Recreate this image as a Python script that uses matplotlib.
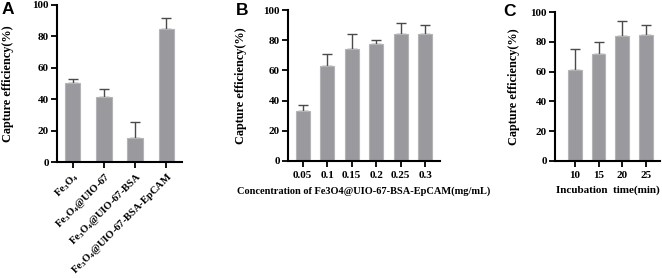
import numpy as np
import matplotlib
matplotlib.use("Agg")
import matplotlib.pyplot as plt

plt.rcParams['font.family'] = 'Liberation Serif'
plt.rcParams['font.weight'] = 'bold'
plt.rcParams['mathtext.fontset'] = 'custom'
plt.rcParams['mathtext.rm'] = 'Liberation Serif:bold'
plt.rcParams['mathtext.bf'] = 'Liberation Serif:bold'

# panel A
a_labels = [r'Fe$_3$O$_4$', r'Fe$_3$O$_4$@UIO-67', r'Fe$_3$O$_4$@UIO-67-BSA',
            r'Fe$_3$O$_4$@UIO-67-BSA-EpCAM']
a_vals = [50.5, 41.6, 15.3, 84.5]
a_err = [2.2, 4.9, 10.2, 7.0]

# panel B
b_labels = ['0.05', '0.1', '0.15', '0.2', '0.25', '0.3']
b_vals = [33.1, 63.1, 74.0, 77.5, 84.3, 84.1]
b_err = [4.2, 8.0, 9.9, 2.4, 7.1, 5.9]

# panel C
c_labels = ['10', '15', '20', '25']
c_vals = [61.1, 72.1, 84.1, 84.3]
c_err = [14.0, 7.5, 9.6, 7.1]

W, H = 662, 278
fig = plt.figure(figsize=(W / 100, H / 100), dpi=100)

def px_axes(l, t, r, b):
    return fig.add_axes([l / W, 1 - b / H, (r - l) / W, (b - t) / H])

bar_col = '#9a9a9e'
edge_col = '#b4b4b6'
err_col = '#4a4a4a'

def draw(ax, labels, vals, err, width, xlim, ylab_x):
    x = np.arange(len(vals))
    ax.bar(x, vals, width=width, color=bar_col, edgecolor=edge_col, linewidth=0.8, zorder=2)
    ax.errorbar(x, vals, yerr=[np.zeros(len(err)), err], fmt='none', ecolor=err_col,
                elinewidth=1.0, capsize=3.5, capthick=1.0, zorder=1)
    ax.set_xlim(*xlim)
    ax.set_ylim(0, 100)
    ax.set_yticks([0, 20, 40, 60, 80, 100])
    ax.set_xticks(x)
    ax.set_xticklabels(labels)
    for s in ['top', 'right']:
        ax.spines[s].set_visible(False)
    for s in ['left', 'bottom']:
        ax.spines[s].set_linewidth(1.5)
        ax.spines[s].set_color('black')
    ax.tick_params(axis='both', width=1.3, length=4, labelsize=8, pad=2)
    ax.set_ylabel('Capture efficiency(%)', fontsize=8.8, fontweight='bold')
    # right edge of the rotated y label at a pixel x position
    l = ax.get_position().x0 * W
    w = ax.get_position().width * W
    ax.yaxis.set_label_coords((ylab_x - l) / w, 0.5)
    for t in ax.get_yticklabels() + ax.get_xticklabels():
        t.set_fontweight('bold')

axA = px_axes(57, 5, 182, 162)
draw(axA, a_labels, a_vals, a_err, 0.5, (-0.5, 3.5), 14)
plt.setp(axA.get_xticklabels(), rotation=45, ha='right', rotation_mode='anchor', fontsize=7.6)
axA.tick_params(axis='x', pad=2)

axB = px_axes(288, 10, 440, 161)
draw(axB, b_labels, b_vals, b_err, 0.58, (-0.6, 5.6), 247)
axB.tick_params(axis='x', pad=3)
axB.set_xlabel('Concentration of Fe3O4@UIO-67-BSA-EpCAM(mg/mL)', fontsize=7.5,
               fontweight='bold', labelpad=5)

axC = px_axes(555, 12, 660, 161)
draw(axC, c_labels, c_vals, c_err, 0.58, (-0.85, 3.6), 520)
axC.tick_params(axis='x', pad=3)
axC.set_xlabel('Incubation  time(min)', fontsize=8, fontweight='bold', labelpad=4)

for letter, xp, yp in [('A', 2, 2), ('B', 236, 3), ('C', 503, 4)]:
    fig.text(xp / W, 1 - yp / H, letter, fontsize=12.5, fontweight='bold',
             family='Liberation Sans', va='top', ha='left')

fig.savefig('out.png', dpi=100)
